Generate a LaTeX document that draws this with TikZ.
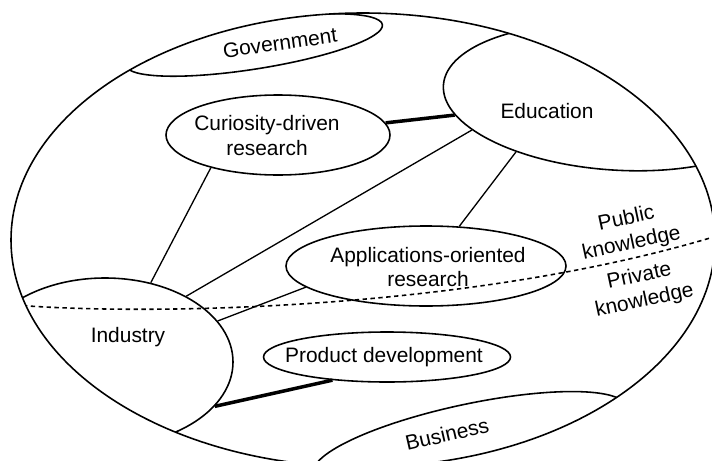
\documentclass[tikz,border=0pt]{standalone}
\usepackage{fontspec}
\setmainfont{Liberation Sans}
\usetikzlibrary{shapes.geometric}
\begin{document}
\begin{tikzpicture}[
  region/.style={draw,ellipse,inner sep=0pt,line width=0.9pt},
  word/.style={font=\fontsize{11.9}{14.2}\selectfont,align=center,inner sep=0pt},
  link/.style={line width=0.75pt},
  strong/.style={line width=2pt}]
	  \useasboundingbox (0,0) rectangle (14.24,9.2);
	  \node[region,minimum width=14.08cm,minimum height=9.08cm] (world) at (7.26,4.40) {};

	  % regions cut by the outer ellipse
	  \begin{scope}
	    \clip (7.26,4.40) ellipse (7.04cm and 4.54cm);
	    \node[region,minimum width=5.20cm,minimum height=0.96cm,rotate=9] (gov) at (5.08,8.30) {};
	    \node[region,minimum width=6.88cm,minimum height=2.92cm,rotate=-4] (edu) at (12.30,7.26) {};
	    \node[region,minimum width=5.12cm,minimum height=3.36cm] (ind) at (2.10,1.96) {};
	    \node[region,minimum width=6.4cm,minimum height=1.44cm,rotate=12] (bus) at (9.40,0.40) {};
	    \draw[line width=0.9pt,dash pattern=on 2.5pt off 2pt] (0.3,3.10) .. controls (3.0,2.88) and (9.5,3.0) .. (14.4,4.5);
	  \end{scope}

	  \node[region,minimum width=4.48cm,minimum height=1.60cm] (cur) at (5.56,6.50) {};
	  \node[region,minimum width=5.60cm,minimum height=1.60cm] (app) at (8.52,3.88) {};
	  \node[region,minimum width=4.94cm,minimum height=1.00cm] (prod) at (7.74,2.06) {};

	  \node[word,rotate=8] (govtext) at (5.60,8.34) {Government};
	  \node[word] (edutext) at (10.94,6.98) {Education};
	  \node[word] (curtext) at (5.34,6.48) {Curiosity-driven\\research};
	  \node[word] (apptext) at (8.56,3.86) {Applications-oriented\\research};
	  \node[word] (indtext) at (2.56,2.46) {Industry};
	  \node[word] (prodtext) at (7.68,2.06) {Product development};
	  \node[word,rotate=13] (bustext) at (8.94,0.52) {Business};
	  \node[word,rotate=12] (pubtext) at (12.58,4.57) {Public\\knowledge};
	  \node[word,rotate=12] (privtext) at (12.84,3.42) {Private\\knowledge};

	  \draw[strong] (cur) -- (edu);
	  \draw[link] (cur.206) -- (ind.60) (edu.197) -- (ind.39) (edu.213) -- (app.50) (app.190) -- (ind.20);
	  \draw[strong] (ind.338) -- (prod.203);
	\end{tikzpicture}
\end{document}
